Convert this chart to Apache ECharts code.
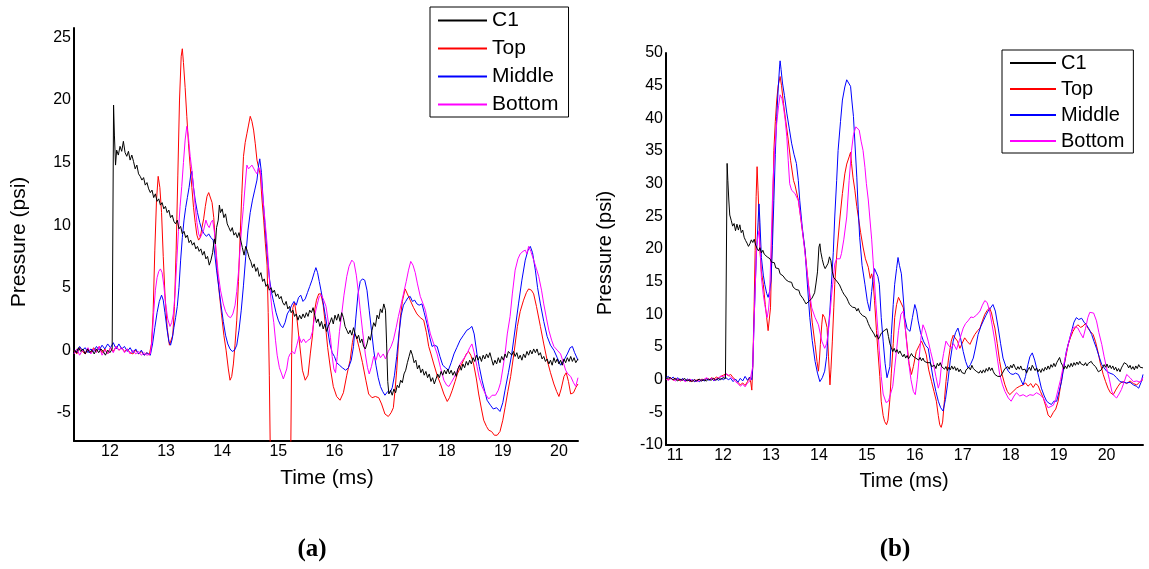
<!DOCTYPE html>
<html>
<head>
<meta charset="utf-8">
<script src="https://cdn.jsdelivr.net/npm/echarts@6/dist/echarts.min.js"></script>
<style>
  html, body { margin: 0; padding: 0; background: #fff; }
  #chart { width: 1149px; height: 569px; }
</style>
</head>
<body>
<div id="chart"></div>
<script>
// ---- Panel (a): pressure traces [time (ms), pressure (psi)] ----
const c1A = [[11.36,0.1],[11.4,-0.2],[11.44,0.2],[11.48,-0.1],[11.52,0.1],[11.56,-0.3],[11.6,0.1],[11.64,-0.2],[11.68,0.0],[11.72,-0.3],[11.76,0.1],[11.8,-0.2],[11.84,0.1],[11.88,-0.1],[11.92,-0.4],[11.96,0.0],[12.0,-0.2],[12.04,0.1],[12.06,0.0],[12.065,19.6],
[12.08,17.2],[12.1,14.8],[12.12,16.0],[12.15,15.6],[12.18,16.3],[12.21,15.9],[12.24,16.7],[12.27,15.8],[12.3,15.5],[12.33,15.9],[12.36,15.2],[12.39,15.6],[12.42,15.1],[12.45,14.5],[12.48,14.8],[12.51,14.1],[12.54,13.9],[12.57,13.6],[12.6,13.8],[12.63,13.2],[12.66,13.4],[12.69,12.9],[12.72,12.6],[12.75,12.8],[12.78,12.2],[12.81,12.5],[12.84,11.9],[12.87,12.1],[12.9,11.6],[12.93,11.8],[12.96,11.3],[12.99,11.5],[13.02,11.0],[13.05,11.2],[13.08,10.6],[13.11,10.8],[13.14,10.3],[13.17,10.1],[13.2,10.4],[13.23,9.7],[13.26,9.9],[13.29,9.3],[13.32,9.5],[13.35,9.0],[13.38,9.2],[13.41,8.6],[13.44,8.8],[13.47,8.4],[13.5,8.6],[13.53,8.1],[13.56,8.3],[13.59,7.9],[13.62,8.1],[13.65,7.6],[13.68,7.9],[13.71,7.3],[13.74,7.5],[13.77,6.8],[13.8,7.2],[13.83,7.8],[13.86,8.9],[13.88,8.5],[13.9,9.8],[13.93,10.4],[13.95,11.6],[13.97,11.0],[14.0,11.3],[14.03,10.6],[14.06,10.9],[14.09,10.1],[14.12,9.8],[14.15,9.5],[14.18,9.8],[14.21,9.2],[14.24,9.4],[14.27,9.0],[14.3,9.4],[14.33,8.8],[14.36,8.2],[14.39,7.6],[14.42,8.3],[14.45,7.9],[14.48,7.4],[14.51,7.1],[14.54,6.6],[14.57,6.9],[14.6,6.3],[14.63,6.6],[14.66,5.9],[14.69,6.2],[14.72,5.5],[14.75,5.7],[14.78,5.1],[14.81,5.3],[14.84,4.8],[14.87,5.0],[14.9,4.6],[14.93,4.8],[14.96,4.3],[14.99,4.5],[15.02,4.1],[15.05,4.3],[15.08,3.8],[15.11,3.6],[15.14,3.9],[15.17,3.3],[15.2,3.5],[15.23,3.0],[15.26,3.2],[15.29,2.7],[15.32,2.9],[15.35,2.4],[15.38,2.8],[15.41,2.5],[15.44,2.9],[15.47,2.6],[15.5,3.0],[15.53,2.7],[15.56,3.2],[15.59,3.0],[15.62,3.4],[15.65,2.8],[15.68,2.2],[15.71,2.5],[15.74,1.9],[15.77,2.3],[15.8,1.7],[15.83,2.1],[15.86,1.5],[15.89,1.9],[15.92,2.2],[15.95,2.6],[15.98,2.1],[16.01,2.8],[16.04,2.4],[16.07,2.9],[16.1,2.3],[16.13,3.0],[16.16,2.6],[16.19,1.9],[16.22,1.6],[16.25,1.3],[16.28,1.6],[16.31,1.2],[16.34,1.8],[16.37,1.3],[16.4,0.9],[16.43,1.2],[16.46,0.6],[16.49,0.9],[16.52,0.3],[16.55,0.1],[16.58,0.5],[16.61,1.1],[16.64,0.8],[16.67,1.6],[16.7,2.2],[16.73,1.9],[16.76,2.8],[16.79,2.5],[16.82,3.3],[16.85,3.0],[16.88,3.7],[16.91,3.2],[16.93,0.5],[16.95,-2.5],[16.97,-3.5],[17.0,-3.2],[17.03,-3.6],[17.06,-3.1],[17.09,-3.4],[17.12,-2.8],[17.15,-3.0],[17.18,-2.4],[17.21,-2.6],[17.24,-1.9],[17.27,-1.6],[17.3,-1.0],[17.33,-0.5],[17.36,0.0],[17.39,-0.4],[17.42,-1.0],[17.45,-0.8],[17.48,-1.5],[17.51,-1.2],[17.54,-1.8],[17.57,-1.5],[17.6,-2.0],[17.63,-1.7],[17.66,-2.2],[17.69,-1.9],[17.72,-2.5],[17.75,-2.2],[17.78,-2.7],[17.81,-2.3],[17.84,-1.9],[17.87,-2.2],[17.9,-1.7],[17.93,-2.0],[17.96,-1.6],[17.99,-1.9],[18.02,-1.5],[18.05,-1.9],[18.08,-1.6],[18.11,-2.0],[18.14,-1.7],[18.17,-2.1],[18.2,-1.5],[18.23,-1.2],[18.26,-1.6],[18.29,-1.1],[18.32,-1.4],[18.35,-0.9],[18.38,-1.2],[18.41,-0.8],[18.44,-1.1],[18.47,-0.6],[18.5,-0.9],[18.53,-0.4],[18.56,-0.8],[18.59,-0.5],[18.62,-0.9],[18.65,-0.4],[18.68,-0.7],[18.71,-0.3],[18.74,-0.6],[18.77,-0.2],[18.8,-0.7],[18.83,-1.2],[18.86,-0.8],[18.89,-1.1],[18.92,-0.6],[18.95,-1.0],[18.98,-0.5],[19.01,-0.8],[19.04,-0.3],[19.07,-0.6],[19.1,-0.1],[19.13,0.0],[19.16,-0.4],[19.19,-0.1],[19.22,-0.5],[19.25,-0.2],[19.28,-0.7],[19.31,-0.4],[19.34,-0.8],[19.37,-0.3],[19.4,-0.6],[19.43,-0.1],[19.46,-0.4],[19.49,0.0],[19.52,-0.3],[19.55,0.1],[19.58,-0.2],[19.61,0.1],[19.64,-0.4],[19.67,-0.2],[19.7,-0.7],[19.73,-0.5],[19.76,-0.9],[19.79,-0.7],[19.82,-1.1],[19.85,-0.8],[19.88,-1.2],[19.91,-0.6],[19.94,-1.0],[19.97,-0.7],[20.0,-1.1],[20.03,-0.8],[20.06,-1.2],[20.09,-0.7],[20.12,-1.0],[20.15,-0.6],[20.18,-0.9],[20.21,-0.5],[20.24,-0.9],[20.27,-0.6],[20.3,-1.0],[20.34,-0.7]];

const topA = [[11.36,0.0],[11.41,-0.3],[11.46,0.2],[11.51,-0.1],[11.56,-0.3],[11.61,0.1],[11.66,-0.2],[11.71,0.2],[11.76,-0.1],[11.81,0.3],[11.86,-0.2],[11.91,0.1],[11.96,-0.3],[12.01,0.2],[12.06,-0.1],[12.11,0.3],[12.16,0.0],[12.21,0.2],[12.26,-0.1],[12.31,0.1],[12.36,-0.2],[12.41,-0.3],[12.46,0.0],[12.51,-0.3],[12.56,-0.1],[12.61,-0.4],[12.66,-0.2],[12.7,-0.4],
[12.74,0.5],[12.77,3.0],[12.8,8.0],[12.83,12.0],[12.86,13.9],[12.89,13.0],[12.92,11.0],[12.95,7.5],[12.98,4.5],[13.02,1.8],[13.06,0.4],[13.09,0.3],[13.12,1.2],[13.15,3.5],[13.18,8.0],[13.21,14.0],[13.24,20.0],[13.27,23.5],[13.29,24.1],[13.31,23.0],[13.34,21.0],[13.37,18.7],[13.4,16.5],[13.43,14.7],[13.46,13.0],[13.49,11.4],[13.52,10.2],[13.55,9.2],[13.58,8.8],[13.61,9.0],[13.64,9.8],[13.67,10.5],[13.7,11.5],[13.73,12.3],[13.76,12.6],[13.79,12.6],[13.82,11.8],[13.85,10.6],[13.88,8.5],[13.91,6.5],[13.95,4.5],[13.99,2.8],[14.03,1.2],[14.07,0.0],[14.11,-1.5],[14.14,-2.4],[14.17,-2.1],[14.2,-1.1],[14.23,0.5],[14.26,2.4],[14.29,5.5],[14.32,9.1],[14.35,12.5],[14.38,15.5],[14.41,16.6],[14.44,17.3],[14.47,18.0],[14.5,18.7],[14.53,18.3],[14.56,17.6],[14.59,16.5],[14.62,15.2],[14.65,14.6],[14.68,14.0],[14.71,12.0],[14.74,10.4],[14.77,8.5],[14.8,6.8],[14.82,3.0],[14.84,-2.0],[14.86,-9.0],[15.0,-10.0],[15.2,-10.0],[15.22,-9.0],[15.24,0.5],[15.26,3.4],[15.29,3.8],[15.33,2.6],[15.38,0.5],[15.43,-1.6],[15.48,-2.4],[15.53,-2.0],[15.57,-0.3],[15.61,1.2],[15.64,3.0],[15.68,4.0],[15.72,4.5],[15.76,4.5],[15.8,3.6],[15.84,2.0],[15.88,0.2],[15.93,-1.5],[15.98,-2.9],[16.04,-3.7],[16.1,-4.0],[16.16,-3.4],[16.22,-2.0],[16.28,-0.8],[16.32,0.6],[16.35,1.3],[16.39,1.1],[16.44,0.2],[16.5,-1.0],[16.56,-2.4],[16.61,-3.5],[16.67,-3.8],[16.73,-3.7],[16.79,-3.8],[16.84,-4.3],[16.9,-5.1],[16.96,-5.3],[17.01,-5.0],[17.05,-4.6],[17.08,-3.2],[17.11,-1.6],[17.14,0.5],[17.17,2.4],[17.21,3.9],[17.26,4.9],[17.3,4.5],[17.35,4.0],[17.41,3.4],[17.47,2.9],[17.53,2.6],[17.59,2.4],[17.64,1.4],[17.68,0.3],[17.72,-0.3],[17.77,-1.1],[17.83,-2.0],[17.89,-2.7],[17.95,-3.5],[18.01,-4.1],[18.05,-3.8],[18.1,-3.2],[18.15,-2.5],[18.19,-1.9],[18.25,-1.3],[18.3,-0.8],[18.35,-0.3],[18.39,-0.1],[18.43,-0.4],[18.48,-1.1],[18.53,-2.3],[18.57,-3.5],[18.62,-4.7],[18.66,-5.6],[18.71,-6.1],[18.75,-6.4],[18.8,-6.5],[18.85,-6.8],[18.9,-6.8],[18.95,-6.5],[19.0,-5.6],[19.04,-4.6],[19.09,-3.3],[19.14,-2.1],[19.2,-0.2],[19.26,1.9],[19.31,3.1],[19.37,4.0],[19.42,4.6],[19.46,4.9],[19.51,4.8],[19.55,4.5],[19.6,3.5],[19.67,1.9],[19.73,0.5],[19.79,-0.8],[19.85,-1.8],[19.91,-2.7],[19.96,-3.3],[20.0,-3.7],[20.04,-3.1],[20.09,-2.1],[20.13,-1.8],[20.17,-2.5],[20.21,-3.5],[20.26,-3.4],[20.3,-3.0],[20.34,-2.7]];

const midA = [[11.36,0.1],[11.41,-0.2],[11.46,0.3],[11.51,0.0],[11.56,0.2],[11.61,-0.2],[11.66,0.1],[11.71,-0.1],[11.76,0.3],[11.81,0.0],[11.86,0.4],[11.91,0.1],[11.96,0.5],[12.01,0.2],[12.06,0.6],[12.11,0.1],[12.16,0.5],[12.21,0.1],[12.26,0.3],[12.31,-0.1],[12.36,0.2],[12.41,-0.2],[12.46,0.1],[12.51,-0.3],[12.56,0.0],[12.61,-0.4],[12.66,-0.2],[12.72,-0.4],
[12.76,0.5],[12.8,1.8],[12.84,3.0],[12.88,3.9],[12.92,4.4],[12.95,4.0],[12.98,3.0],[13.02,1.6],[13.05,0.7],[13.08,0.4],[13.11,0.9],[13.14,1.8],[13.17,2.6],[13.2,3.5],[13.23,5.0],[13.26,7.2],[13.29,9.0],[13.32,10.4],[13.35,11.4],[13.38,12.2],[13.41,13.0],[13.44,14.0],[13.46,14.3],[13.49,13.0],[13.52,12.0],[13.56,11.0],[13.6,10.2],[13.64,9.6],[13.68,9.3],[13.72,9.1],[13.76,9.3],[13.8,9.0],[13.84,8.8],[13.87,7.6],[13.9,6.4],[13.94,5.0],[13.98,3.6],[14.02,2.3],[14.06,1.2],[14.1,0.5],[14.14,0.1],[14.18,-0.1],[14.22,0.0],[14.26,0.4],[14.3,1.6],[14.34,3.2],[14.38,5.2],[14.42,7.5],[14.46,9.6],[14.5,11.0],[14.54,12.0],[14.58,12.8],[14.62,13.6],[14.65,14.8],[14.67,15.3],[14.7,14.2],[14.73,12.0],[14.76,10.2],[14.8,7.8],[14.84,5.8],[14.88,4.6],[14.92,3.8],[14.96,3.0],[15.0,2.4],[15.04,2.0],[15.08,1.8],[15.12,2.2],[15.16,2.9],[15.2,3.2],[15.24,3.6],[15.28,3.9],[15.32,3.6],[15.36,4.2],[15.4,4.4],[15.44,3.9],[15.48,4.1],[15.52,4.6],[15.56,5.1],[15.6,5.6],[15.64,6.2],[15.67,6.6],[15.7,6.2],[15.73,5.5],[15.76,4.8],[15.8,3.8],[15.84,2.7],[15.88,1.6],[15.92,0.5],[15.96,-0.2],[16.0,-0.5],[16.04,-1.0],[16.09,-1.2],[16.14,-1.4],[16.2,-1.6],[16.25,-1.4],[16.3,-0.8],[16.34,0.3],[16.38,2.5],[16.42,4.5],[16.46,5.5],[16.5,5.7],[16.54,5.6],[16.58,4.8],[16.62,3.2],[16.66,1.6],[16.7,0.0],[16.74,-1.2],[16.78,-2.2],[16.82,-2.9],[16.86,-3.3],[16.9,-3.6],[16.95,-3.3],[16.99,-3.4],[17.03,-3.0],[17.07,-2.0],[17.11,-0.5],[17.15,1.3],[17.19,2.8],[17.23,3.6],[17.27,3.9],[17.31,4.2],[17.35,4.3],[17.39,3.9],[17.43,4.0],[17.47,3.7],[17.51,3.6],[17.56,3.7],[17.6,3.0],[17.65,2.1],[17.7,1.0],[17.74,0.3],[17.78,0.4],[17.83,0.3],[17.88,-0.5],[17.93,-1.2],[17.98,-1.4],[18.03,-1.6],[18.08,-1.0],[18.13,-0.3],[18.18,0.2],[18.24,0.8],[18.3,1.2],[18.36,1.6],[18.4,1.7],[18.45,1.9],[18.49,1.3],[18.54,-0.3],[18.58,-1.3],[18.63,-2.4],[18.68,-3.3],[18.72,-4.0],[18.78,-4.4],[18.83,-4.7],[18.89,-4.6],[18.95,-4.9],[19.0,-4.2],[19.04,-3.2],[19.1,-1.8],[19.16,-0.3],[19.22,1.7],[19.28,3.7],[19.34,5.6],[19.4,7.2],[19.45,8.0],[19.49,8.3],[19.53,7.8],[19.58,6.4],[19.62,5.0],[19.67,3.7],[19.73,2.3],[19.79,1.1],[19.85,0.4],[19.91,0.0],[19.97,-0.6],[20.03,-1.2],[20.09,-0.8],[20.15,-0.3],[20.2,0.2],[20.24,0.3],[20.28,-0.2],[20.34,-0.8]];

const botA = [[11.36,-0.3],[11.41,0.1],[11.46,-0.4],[11.51,0.0],[11.56,-0.2],[11.61,0.2],[11.66,-0.3],[11.71,0.1],[11.76,-0.2],[11.81,0.3],[11.86,-0.4],[11.91,0.0],[11.96,-0.3],[12.01,0.2],[12.06,-0.2],[12.11,0.3],[12.16,0.0],[12.21,0.2],[12.26,-0.2],[12.31,0.1],[12.36,-0.3],[12.41,0.0],[12.46,-0.3],[12.51,-0.1],[12.56,-0.4],[12.61,-0.2],[12.66,-0.4],[12.72,-0.3],
[12.75,0.8],[12.78,3.0],[12.81,4.8],[12.84,5.8],[12.87,6.3],[12.9,6.5],[12.93,6.2],[12.96,5.2],[12.99,3.8],[13.03,2.5],[13.07,1.9],[13.1,2.2],[13.13,2.9],[13.16,4.5],[13.19,7.0],[13.22,9.5],[13.25,11.5],[13.28,13.1],[13.31,15.0],[13.34,16.8],[13.37,17.9],[13.4,17.0],[13.43,15.5],[13.46,14.4],[13.49,13.0],[13.52,11.5],[13.55,10.2],[13.58,9.3],[13.61,9.0],[13.64,9.3],[13.67,9.6],[13.71,10.4],[13.74,10.0],[13.77,9.8],[13.8,10.2],[13.83,10.4],[13.86,9.5],[13.89,8.0],[13.93,6.1],[13.97,4.8],[14.02,3.7],[14.06,3.1],[14.11,2.7],[14.15,2.6],[14.19,2.9],[14.23,3.6],[14.26,4.7],[14.29,6.2],[14.32,8.2],[14.35,10.0],[14.38,11.5],[14.41,13.2],[14.44,14.8],[14.47,14.5],[14.5,14.4],[14.53,14.8],[14.56,14.7],[14.59,14.3],[14.62,14.1],[14.65,14.6],[14.68,14.4],[14.71,13.0],[14.74,11.5],[14.77,10.0],[14.8,8.5],[14.83,6.5],[14.86,4.5],[14.89,3.2],[14.92,2.2],[14.95,0.8],[14.98,-0.4],[15.02,-1.4],[15.06,-1.9],[15.09,-2.3],[15.12,-1.9],[15.15,-1.5],[15.18,-0.6],[15.21,-0.3],[15.25,-0.1],[15.29,-0.3],[15.33,0.4],[15.37,1.1],[15.41,0.6],[15.45,0.9],[15.49,0.6],[15.53,0.8],[15.57,0.9],[15.61,1.5],[15.65,2.8],[15.69,3.6],[15.73,4.3],[15.77,4.4],[15.81,4.0],[15.85,3.5],[15.89,2.3],[15.93,1.0],[15.96,-0.5],[15.99,-1.5],[16.02,-1.8],[16.05,-0.5],[16.09,1.5],[16.13,2.9],[16.17,4.4],[16.22,5.9],[16.26,6.7],[16.31,7.2],[16.35,7.0],[16.39,6.0],[16.43,4.5],[16.46,3.2],[16.5,1.6],[16.55,-0.3],[16.59,-1.4],[16.62,-1.9],[16.66,-1.3],[16.7,-0.5],[16.74,-0.8],[16.78,-0.2],[16.82,-0.6],[16.87,-0.3],[16.91,-0.7],[16.96,-0.1],[17.01,0.3],[17.05,0.8],[17.1,1.8],[17.14,2.7],[17.19,3.7],[17.23,4.5],[17.28,5.5],[17.32,6.4],[17.36,7.1],[17.4,6.8],[17.44,6.2],[17.48,5.3],[17.53,4.3],[17.58,3.7],[17.62,3.2],[17.67,2.1],[17.71,1.3],[17.77,0.5],[17.83,-0.3],[17.89,-1.4],[17.95,-2.4],[18.0,-2.8],[18.04,-2.9],[18.08,-2.6],[18.13,-2.2],[18.18,-1.7],[18.24,-1.1],[18.3,-0.7],[18.36,-0.3],[18.41,0.2],[18.45,0.5],[18.49,-0.2],[18.54,-1.3],[18.58,-2.2],[18.63,-2.9],[18.69,-3.5],[18.75,-3.9],[18.81,-3.6],[18.87,-3.6],[18.92,-3.2],[18.96,-2.6],[19.0,-1.5],[19.04,-0.3],[19.08,1.3],[19.13,2.7],[19.17,4.5],[19.22,6.4],[19.27,7.3],[19.31,7.7],[19.36,7.9],[19.4,8.0],[19.43,7.7],[19.46,8.3],[19.5,7.9],[19.55,7.2],[19.6,6.5],[19.64,5.9],[19.69,4.8],[19.73,3.7],[19.78,2.5],[19.82,1.6],[19.87,0.8],[19.91,0.3],[19.97,0.0],[20.03,-0.3],[20.08,-1.0],[20.12,-1.6],[20.16,-1.9],[20.21,-2.1],[20.26,-2.6],[20.3,-2.9],[20.34,-2.2]];

// ---- Panel (b) ----
const c1B = [[10.81,0.2],[10.85,-0.1],[10.9,0.3],[10.95,0.0],[11.0,0.2],[11.05,-0.2],[11.1,0.1],[11.15,-0.1],[11.2,0.2],[11.25,-0.2],[11.3,0.0],[11.35,-0.3],[11.4,0.0],[11.45,-0.2],[11.5,0.1],[11.55,-0.2],[11.6,0.0],[11.65,-0.2],[11.7,0.1],[11.75,-0.1],[11.8,0.2],[11.85,-0.1],[11.9,0.2],[11.95,0.0],[12.0,0.3],[12.05,0.2],[12.08,0.4],[12.085,33.1],
[12.1,30.5],[12.12,27.5],[12.14,25.2],[12.17,24.4],[12.2,23.5],[12.23,23.9],[12.26,22.8],[12.29,23.8],[12.32,22.9],[12.35,23.7],[12.38,22.5],[12.41,22.9],[12.44,21.8],[12.47,21.3],[12.5,20.9],[12.53,20.4],[12.56,20.8],[12.59,21.4],[12.62,21.0],[12.65,21.5],[12.68,20.6],[12.71,20.1],[12.74,19.7],[12.77,20.2],[12.8,19.4],[12.83,19.8],[12.86,19.2],[12.89,19.5],[12.92,18.8],[12.95,19.1],[12.98,18.5],[13.01,18.0],[13.04,17.7],[13.07,17.9],[13.1,17.1],[13.13,16.8],[13.16,17.0],[13.19,16.2],[13.22,16.5],[13.25,15.9],[13.28,16.0],[13.31,15.3],[13.34,15.6],[13.37,15.0],[13.4,14.8],[13.43,14.9],[13.46,14.2],[13.49,14.4],[13.52,13.8],[13.55,13.5],[13.58,13.7],[13.61,13.0],[13.64,12.8],[13.67,12.4],[13.7,12.0],[13.73,11.6],[13.76,11.4],[13.79,12.0],[13.82,11.7],[13.85,12.4],[13.88,12.6],[13.91,13.3],[13.94,14.8],[13.97,16.5],[14.0,20.3],[14.02,20.8],[14.04,19.5],[14.07,18.4],[14.1,17.5],[14.13,17.0],[14.16,17.4],[14.19,17.8],[14.22,18.8],[14.25,18.2],[14.28,16.5],[14.31,15.6],[14.34,15.9],[14.37,15.1],[14.4,14.9],[14.43,14.5],[14.46,14.0],[14.49,13.5],[14.52,13.1],[14.55,12.9],[14.58,12.5],[14.61,12.0],[14.64,11.5],[14.67,11.8],[14.7,11.1],[14.73,10.8],[14.76,11.0],[14.79,10.5],[14.82,10.9],[14.85,10.3],[14.88,10.4],[14.91,9.8],[14.94,10.0],[14.97,9.6],[15.0,9.2],[15.03,8.6],[15.06,8.1],[15.09,7.7],[15.12,7.4],[15.15,7.0],[15.18,6.5],[15.21,6.9],[15.24,6.2],[15.27,6.6],[15.3,7.1],[15.33,6.8],[15.36,7.5],[15.39,7.2],[15.42,7.8],[15.45,6.6],[15.48,5.5],[15.51,4.9],[15.54,4.3],[15.57,4.8],[15.6,4.2],[15.63,4.6],[15.66,4.0],[15.69,4.4],[15.72,3.9],[15.75,3.5],[15.78,3.9],[15.81,3.3],[15.84,3.7],[15.87,3.2],[15.9,3.6],[15.93,4.0],[15.96,3.6],[15.99,3.9],[16.02,3.3],[16.05,3.6],[16.08,3.0],[16.11,3.4],[16.14,2.9],[16.17,3.3],[16.2,2.8],[16.23,3.1],[16.26,2.6],[16.29,2.3],[16.32,2.6],[16.35,2.0],[16.38,1.8],[16.41,2.2],[16.44,1.7],[16.47,2.5],[16.5,2.1],[16.53,2.6],[16.56,2.0],[16.59,2.3],[16.62,1.6],[16.65,2.0],[16.68,1.4],[16.71,1.9],[16.74,1.5],[16.77,2.1],[16.8,1.6],[16.83,2.0],[16.86,1.4],[16.89,1.8],[16.92,1.2],[16.95,1.6],[16.98,1.1],[17.01,1.4],[17.04,0.9],[17.07,1.5],[17.1,1.2],[17.13,1.9],[17.16,1.5],[17.19,2.2],[17.22,1.7],[17.25,1.9],[17.28,1.3],[17.31,1.6],[17.34,1.0],[17.37,1.4],[17.4,1.0],[17.43,1.5],[17.46,1.1],[17.49,1.7],[17.52,1.3],[17.55,1.9],[17.58,1.4],[17.61,1.8],[17.64,1.2],[17.67,0.8],[17.7,1.0],[17.73,0.5],[17.76,0.2],[17.79,0.5],[17.82,0.9],[17.85,1.2],[17.88,1.7],[17.91,1.4],[17.94,2.0],[17.97,1.6],[18.0,2.2],[18.03,1.8],[18.06,2.4],[18.09,1.9],[18.12,1.5],[18.15,2.0],[18.18,1.6],[18.21,2.1],[18.24,1.5],[18.27,1.2],[18.3,1.6],[18.33,1.0],[18.36,1.5],[18.39,1.9],[18.42,1.4],[18.45,2.2],[18.48,1.8],[18.51,1.4],[18.54,1.8],[18.57,1.2],[18.6,1.6],[18.63,1.1],[18.66,1.7],[18.69,1.3],[18.72,1.9],[18.75,1.5],[18.78,2.1],[18.81,1.6],[18.84,2.3],[18.87,1.9],[18.9,2.5],[18.93,2.0],[18.96,2.6],[18.99,3.0],[19.02,3.4],[19.05,2.6],[19.08,2.2],[19.11,1.6],[19.14,2.1],[19.17,1.7],[19.2,2.3],[19.23,1.9],[19.26,2.5],[19.29,2.0],[19.32,2.6],[19.35,2.2],[19.38,2.7],[19.41,2.3],[19.44,2.8],[19.47,2.4],[19.5,2.7],[19.53,2.2],[19.56,2.6],[19.59,2.1],[19.62,2.5],[19.65,2.2],[19.68,2.8],[19.71,2.4],[19.74,2.6],[19.77,2.0],[19.8,1.6],[19.83,1.2],[19.86,1.0],[19.89,1.5],[19.92,1.8],[19.95,2.3],[19.98,1.9],[20.01,2.4],[20.04,1.8],[20.07,2.2],[20.1,1.7],[20.13,2.1],[20.16,1.5],[20.19,1.9],[20.22,1.3],[20.25,1.7],[20.28,1.2],[20.31,1.8],[20.34,2.2],[20.37,2.6],[20.4,2.9],[20.43,2.3],[20.46,1.8],[20.49,2.2],[20.52,1.6],[20.55,2.0],[20.58,1.5],[20.61,2.1],[20.64,1.7],[20.67,2.3],[20.7,1.9],[20.73,2.1],[20.76,1.8]];

const topB = [[10.81,0.2],[10.86,0.0],[10.91,0.3],[10.96,-0.1],[11.01,0.2],[11.06,0.0],[11.11,-0.2],[11.16,0.1],[11.21,-0.2],[11.26,0.0],[11.31,-0.3],[11.36,-0.1],[11.41,-0.3],[11.46,0.0],[11.51,-0.2],[11.56,0.1],[11.61,-0.1],[11.66,0.2],[11.71,0.0],[11.76,0.3],[11.81,0.1],[11.86,0.4],[11.91,0.2],[11.96,0.5],[12.01,0.7],[12.06,0.9],[12.11,0.6],[12.16,0.8],[12.21,0.3],[12.26,0.0],[12.31,-0.4],[12.36,-0.8],[12.41,-0.5],[12.46,-0.9],[12.51,-0.3],[12.55,0.4],
[12.58,-0.5],[12.6,-1.6],[12.62,2.0],[12.65,12.0],[12.67,19.8],[12.69,28.0],[12.71,32.6],[12.73,29.0],[12.75,25.0],[12.77,19.8],[12.8,16.5],[12.84,14.6],[12.88,11.5],[12.91,9.5],[12.94,7.5],[12.96,7.4],[12.99,11.0],[13.01,17.2],[13.04,27.0],[13.06,35.1],[13.09,39.5],[13.12,42.8],[13.15,45.0],[13.19,46.4],[13.22,45.0],[13.26,42.3],[13.31,39.5],[13.36,36.7],[13.41,33.5],[13.47,30.5],[13.5,29.8],[13.53,29.5],[13.57,27.5],[13.6,25.9],[13.65,23.0],[13.71,19.8],[13.76,16.0],[13.81,12.6],[13.86,8.8],[13.92,5.4],[13.96,2.8],[13.99,1.3],[14.01,3.0],[14.03,5.4],[14.06,8.5],[14.08,10.0],[14.12,9.5],[14.15,9.6],[14.17,8.0],[14.2,3.5],[14.23,-0.8],[14.25,1.5],[14.28,5.9],[14.31,11.0],[14.33,14.6],[14.38,20.0],[14.44,24.9],[14.49,28.5],[14.54,31.5],[14.58,33.0],[14.63,34.1],[14.66,34.8],[14.68,33.1],[14.71,31.0],[14.75,29.0],[14.79,26.5],[14.82,25.0],[14.87,22.5],[14.92,20.3],[14.97,18.5],[15.03,17.2],[15.07,15.5],[15.1,16.2],[15.13,15.0],[15.16,12.1],[15.2,7.5],[15.23,4.4],[15.27,0.5],[15.3,-3.3],[15.34,-5.5],[15.37,-6.4],[15.41,-6.9],[15.44,-6.2],[15.48,-3.0],[15.51,1.0],[15.55,5.5],[15.58,9.5],[15.62,11.5],[15.66,12.6],[15.7,12.4],[15.76,11.0],[15.8,8.0],[15.83,5.9],[15.88,2.5],[15.93,0.8],[15.97,2.0],[16.03,4.3],[16.09,5.2],[16.14,5.9],[16.19,5.0],[16.24,3.8],[16.29,1.5],[16.35,-0.3],[16.4,-1.8],[16.45,-3.3],[16.49,-5.5],[16.52,-6.9],[16.55,-7.3],[16.58,-6.5],[16.62,-3.0],[16.65,-0.3],[16.7,3.0],[16.76,5.9],[16.8,6.8],[16.84,6.9],[16.89,5.9],[16.94,4.8],[16.99,5.6],[17.04,6.4],[17.1,5.8],[17.15,5.4],[17.2,6.2],[17.25,6.9],[17.31,7.5],[17.36,7.9],[17.41,9.0],[17.46,10.0],[17.51,10.6],[17.56,11.0],[17.6,10.2],[17.64,8.8],[17.67,7.9],[17.72,5.5],[17.77,2.8],[17.82,0.8],[17.88,-0.8],[17.93,-1.8],[17.98,-2.3],[18.05,-1.8],[18.12,-1.3],[18.19,-1.0],[18.26,-0.8],[18.31,-0.5],[18.36,-1.0],[18.42,-0.6],[18.47,-1.2],[18.52,-0.6],[18.57,-0.9],[18.62,-1.8],[18.68,-2.8],[18.73,-4.0],[18.78,-5.4],[18.83,-5.8],[18.89,-5.0],[18.94,-4.5],[18.99,-3.3],[19.04,-1.0],[19.09,1.3],[19.15,3.5],[19.2,5.4],[19.25,6.5],[19.3,7.4],[19.35,8.0],[19.4,8.4],[19.46,8.0],[19.51,8.2],[19.56,8.6],[19.61,7.9],[19.66,7.4],[19.72,6.9],[19.77,5.8],[19.82,4.3],[19.87,2.5],[19.93,0.8],[19.98,-0.3],[20.03,-1.3],[20.08,-2.0],[20.14,-2.3],[20.19,-1.6],[20.24,-1.0],[20.29,-0.5],[20.35,-0.3],[20.42,-0.6],[20.49,-0.2],[20.56,-0.6],[20.63,-0.8],[20.7,-0.3],[20.76,0.0]];

const midB = [[10.81,0.3],[10.86,0.5],[10.91,0.1],[10.96,0.4],[11.01,0.0],[11.06,0.3],[11.11,-0.1],[11.16,0.2],[11.21,-0.2],[11.26,0.1],[11.31,-0.2],[11.36,0.0],[11.41,-0.3],[11.46,-0.1],[11.51,-0.3],[11.56,0.0],[11.61,-0.2],[11.66,0.1],[11.71,-0.1],[11.76,0.2],[11.81,-0.2],[11.86,0.1],[11.91,-0.1],[11.96,0.2],[12.01,0.0],[12.06,0.3],[12.11,0.0],[12.16,0.2],[12.21,-0.3],[12.26,0.1],[12.31,-0.4],[12.36,0.2],[12.41,-0.2],[12.46,0.5],[12.51,-0.1],[12.56,0.4],[12.6,0.0],
[12.62,2.0],[12.65,9.5],[12.68,16.0],[12.7,19.8],[12.73,24.0],[12.75,26.9],[12.77,24.0],[12.8,18.7],[12.84,16.0],[12.87,14.6],[12.91,13.2],[12.94,12.6],[12.97,13.5],[13.0,15.1],[13.03,20.5],[13.06,27.4],[13.09,34.5],[13.12,40.3],[13.15,44.5],[13.18,48.0],[13.19,48.8],[13.21,47.5],[13.24,45.4],[13.28,43.5],[13.33,40.8],[13.38,38.5],[13.43,36.2],[13.48,34.5],[13.53,33.1],[13.57,30.5],[13.6,27.4],[13.65,23.5],[13.71,19.8],[13.76,14.5],[13.81,9.5],[13.86,6.0],[13.92,2.8],[13.97,1.0],[14.02,-0.3],[14.07,0.3],[14.12,1.3],[14.16,3.5],[14.19,7.0],[14.23,10.8],[14.26,14.6],[14.3,19.5],[14.33,24.9],[14.37,30.5],[14.4,35.1],[14.45,39.5],[14.49,42.8],[14.54,44.8],[14.58,45.9],[14.62,45.6],[14.66,44.9],[14.69,42.5],[14.72,40.3],[14.76,35.0],[14.79,31.0],[14.82,26.0],[14.85,21.8],[14.9,17.5],[14.96,14.6],[15.01,12.0],[15.06,10.5],[15.1,13.5],[15.13,15.6],[15.16,17.0],[15.19,17.2],[15.23,15.8],[15.26,14.6],[15.3,9.5],[15.34,5.9],[15.38,2.5],[15.42,0.3],[15.44,0.0],[15.48,2.0],[15.51,6.9],[15.55,11.5],[15.58,14.6],[15.62,17.0],[15.65,18.7],[15.68,17.5],[15.72,16.2],[15.76,12.5],[15.79,9.5],[15.84,7.8],[15.9,7.4],[15.95,9.5],[16.0,11.5],[16.04,10.5],[16.07,9.0],[16.12,7.2],[16.18,5.9],[16.23,5.2],[16.28,4.8],[16.33,2.5],[16.38,0.3],[16.44,-1.8],[16.49,-3.3],[16.54,-4.3],[16.59,-4.8],[16.64,-3.0],[16.69,-0.3],[16.74,3.0],[16.8,5.9],[16.85,7.2],[16.9,7.9],[16.95,6.5],[17.01,4.3],[17.06,2.8],[17.11,1.8],[17.16,2.3],[17.22,3.3],[17.27,5.0],[17.32,6.9],[17.38,8.2],[17.43,9.0],[17.48,9.8],[17.53,10.5],[17.58,11.0],[17.63,11.5],[17.68,10.5],[17.74,7.9],[17.79,5.5],[17.84,3.3],[17.9,2.0],[17.95,1.3],[18.0,0.9],[18.05,0.8],[18.1,1.0],[18.16,0.8],[18.21,0.0],[18.26,-0.8],[18.31,0.5],[18.36,2.3],[18.4,3.5],[18.45,4.1],[18.5,3.0],[18.54,1.8],[18.59,0.3],[18.64,-1.3],[18.7,-2.5],[18.75,-3.3],[18.8,-3.6],[18.85,-3.8],[18.9,-3.3],[18.96,-3.3],[19.01,-1.8],[19.06,-0.3],[19.11,2.0],[19.16,4.3],[19.22,6.0],[19.27,7.4],[19.32,8.8],[19.37,9.5],[19.42,9.2],[19.48,9.4],[19.53,8.8],[19.58,8.4],[19.63,7.8],[19.69,6.9],[19.74,5.8],[19.79,4.8],[19.85,3.4],[19.9,2.3],[19.95,1.8],[20.0,1.3],[20.07,1.0],[20.14,0.8],[20.21,0.3],[20.28,-0.3],[20.35,-0.4],[20.42,-0.5],[20.49,-0.4],[20.56,-0.8],[20.62,-1.0],[20.67,-1.3],[20.72,-0.4],[20.76,0.8]];

const botB = [[10.81,0.1],[10.86,-0.1],[10.91,0.2],[10.96,0.0],[11.01,-0.2],[11.06,0.1],[11.11,-0.1],[11.16,0.0],[11.21,-0.3],[11.26,-0.1],[11.31,0.1],[11.36,-0.2],[11.41,0.0],[11.46,-0.3],[11.51,0.0],[11.56,-0.2],[11.61,0.1],[11.66,0.3],[11.71,0.0],[11.76,0.2],[11.81,-0.1],[11.86,0.1],[11.91,0.3],[11.96,0.6],[12.01,0.4],[12.06,0.9],[12.11,0.7],[12.16,0.4],[12.21,0.1],[12.26,-0.3],[12.31,-0.6],[12.36,-1.0],[12.41,-0.7],[12.46,-1.1],[12.51,-0.5],[12.56,-0.2],[12.6,0.0],
[12.62,2.0],[12.65,9.5],[12.68,16.0],[12.7,20.3],[12.73,22.0],[12.75,22.8],[12.78,19.0],[12.8,15.6],[12.84,13.0],[12.87,11.5],[12.92,9.5],[12.95,10.8],[12.97,12.6],[13.0,20.0],[13.04,30.0],[13.08,35.5],[13.12,39.3],[13.16,42.0],[13.19,43.6],[13.23,43.0],[13.26,41.8],[13.3,39.5],[13.33,37.2],[13.36,33.5],[13.39,30.0],[13.43,29.0],[13.5,28.5],[13.57,27.4],[13.64,23.8],[13.71,19.3],[13.78,14.6],[13.85,11.0],[13.92,9.5],[13.99,8.4],[14.06,5.9],[14.12,4.8],[14.16,5.5],[14.19,7.0],[14.23,10.0],[14.26,12.6],[14.3,15.5],[14.33,17.7],[14.37,18.5],[14.4,18.7],[14.44,18.5],[14.47,19.3],[14.52,21.5],[14.58,24.9],[14.63,30.5],[14.68,35.1],[14.72,37.5],[14.77,38.7],[14.81,38.9],[14.84,38.2],[14.88,36.5],[14.92,35.1],[14.96,32.5],[14.99,30.0],[15.03,27.5],[15.06,24.9],[15.1,21.5],[15.13,18.2],[15.16,14.8],[15.19,11.5],[15.23,7.5],[15.26,4.4],[15.3,0.5],[15.34,-2.2],[15.4,-3.5],[15.45,-3.3],[15.49,-3.0],[15.54,-1.0],[15.58,1.8],[15.62,4.5],[15.66,7.5],[15.71,10.0],[15.76,10.5],[15.8,8.0],[15.86,3.3],[15.92,0.0],[15.97,-1.8],[16.01,-2.3],[16.05,0.0],[16.09,3.3],[16.13,6.5],[16.17,8.4],[16.22,7.5],[16.28,5.9],[16.33,4.3],[16.38,2.8],[16.44,0.5],[16.49,-1.3],[16.52,-0.5],[16.55,1.8],[16.6,4.0],[16.65,5.9],[16.7,5.3],[16.76,4.8],[16.81,5.5],[16.87,4.6],[16.93,6.0],[17.01,7.9],[17.06,8.6],[17.11,9.0],[17.17,9.6],[17.22,9.5],[17.29,9.9],[17.36,10.5],[17.41,11.4],[17.46,12.1],[17.51,11.8],[17.56,10.5],[17.61,8.5],[17.67,5.9],[17.72,3.3],[17.77,0.8],[17.83,-0.8],[17.88,-1.8],[17.95,-2.8],[18.01,-3.3],[18.07,-2.5],[18.12,-2.0],[18.19,-2.5],[18.26,-2.3],[18.33,-2.6],[18.4,-2.3],[18.47,-2.4],[18.54,-2.0],[18.61,-2.3],[18.68,-2.8],[18.73,-3.6],[18.78,-4.3],[18.84,-4.1],[18.89,-3.9],[18.94,-3.0],[18.99,-1.5],[19.04,0.0],[19.09,1.8],[19.15,3.8],[19.2,5.4],[19.25,6.8],[19.3,7.9],[19.35,8.1],[19.4,7.9],[19.45,7.2],[19.51,6.4],[19.56,7.8],[19.61,9.5],[19.65,10.3],[19.68,10.5],[19.73,10.2],[19.79,9.0],[19.84,7.2],[19.9,5.4],[19.95,3.5],[20.0,1.8],[20.06,0.0],[20.11,-1.8],[20.16,-2.5],[20.21,-2.8],[20.26,-2.2],[20.31,-1.5],[20.36,-0.5],[20.42,0.8],[20.49,0.3],[20.56,-0.3],[20.63,-0.2],[20.7,-0.4],[20.76,0.3]];

// ---- Axis tick labels ----
const xTicksA = [12, 13, 14, 15, 16, 17, 18, 19, 20];
const yTicksA = [-5, 0, 5, 10, 15, 20, 25];
const xTicksB = [11, 12, 13, 14, 15, 16, 17, 18, 19, 20];
const yTicksB = [-10, -5, 0, 5, 10, 15, 20, 25, 30, 35, 40, 45, 50];

const names = ['C1', 'Top', 'Middle', 'Bottom'];
const colors = { C1: '#000000', Top: '#ff0000', Middle: '#0000ff', Bottom: '#ff00ff' };

const SANS = '"Liberation Sans", Arial, sans-serif';
const SERIF = '"Liberation Serif", "Times New Roman", serif';

function xAxisOf(gridIndex, min, max, ticks) {
  return {
    type: 'value', gridIndex, min, max,
    splitLine: { show: false },
    axisTick: { show: false },
    axisLine: { onZero: false, lineStyle: { color: '#000', width: 2 } },
    axisLabel: { customValues: ticks, margin: 3, color: '#000', fontSize: 16, fontFamily: SANS }
  };
}
function yAxisOf(gridIndex, min, max, ticks) {
  return {
    type: 'value', gridIndex, min, max,
    splitLine: { show: false },
    axisTick: { show: false },
    axisLine: { show: true, onZero: false, lineStyle: { color: '#000', width: 2 } },
    axisLabel: { customValues: ticks, margin: 3, color: '#000', fontSize: 16, fontFamily: SANS }
  };
}
function lineSeries(name, data, axisIndex) {
  return {
    name, type: 'line', data,
    xAxisIndex: axisIndex, yAxisIndex: axisIndex,
    showSymbol: false, symbol: 'none',
    clip: true, animation: false,
    lineStyle: { color: colors[name], width: 1 },
    itemStyle: { color: colors[name] },
    emphasis: { disabled: true }
  };
}
function legendOf(left, top, fontSize, itemWidth, gap, padding) {
  return {
    data: names, orient: 'vertical', left, top,
    icon: 'rect', itemWidth, itemHeight: 2, itemGap: gap,
    padding, borderColor: '#000', borderWidth: 1, backgroundColor: '#fff',
    selectedMode: false,
    textStyle: { color: '#000', fontSize, fontFamily: SANS }
  };
}
function label(text, x, y, font, rotation) {
  return {
    type: 'text', x, y, rotation: rotation || 0,
    style: { text, font, fill: '#000', align: 'center', verticalAlign: 'middle',
             textAlign: 'center', textVerticalAlign: 'middle' }
  };
}

const chart = echarts.init(document.getElementById('chart'), null, { renderer: 'canvas' });
chart.setOption({
  backgroundColor: '#fff',
  animation: false,
  grid: [
    { left: 74, top: 28, width: 504, height: 413 },
    { left: 666, top: 53, width: 477, height: 392 }
  ],
  xAxis: [xAxisOf(0, 11.36, 20.34, xTicksA), xAxisOf(1, 10.81, 20.76, xTicksB)],
  yAxis: [yAxisOf(0, -7.26, 25.76, yTicksA), yAxisOf(1, -10, 50, yTicksB)],
  legend: [
    legendOf(430, 7, 21, 49, 7, [3, 10, 2, 8]),
    legendOf(1002, 50, 20, 46, 6, [3, 9, 2, 8])
  ],
  series: [
    lineSeries('Top', topA, 0), lineSeries('Middle', midA, 0),
    lineSeries('Bottom', botA, 0), lineSeries('C1', c1A, 0),
    lineSeries('Top', topB, 1), lineSeries('Middle', midB, 1),
    lineSeries('Bottom', botB, 1), lineSeries('C1', c1B, 1)
  ],
  graphic: [
    label('Pressure (psi)', 19, 242, '21px ' + SANS, Math.PI / 2),
    label('Time (ms)', 327, 478, '21px ' + SANS),
    label('Pressure (psi)', 605, 253, '20px ' + SANS, Math.PI / 2),
    label('Time (ms)', 904, 481, '20px ' + SANS),
    label('(a)', 312, 550, 'bold 25px ' + SERIF),
    label('(b)', 895, 550, 'bold 25px ' + SERIF)
  ]
});
</script>
</body>
</html>
